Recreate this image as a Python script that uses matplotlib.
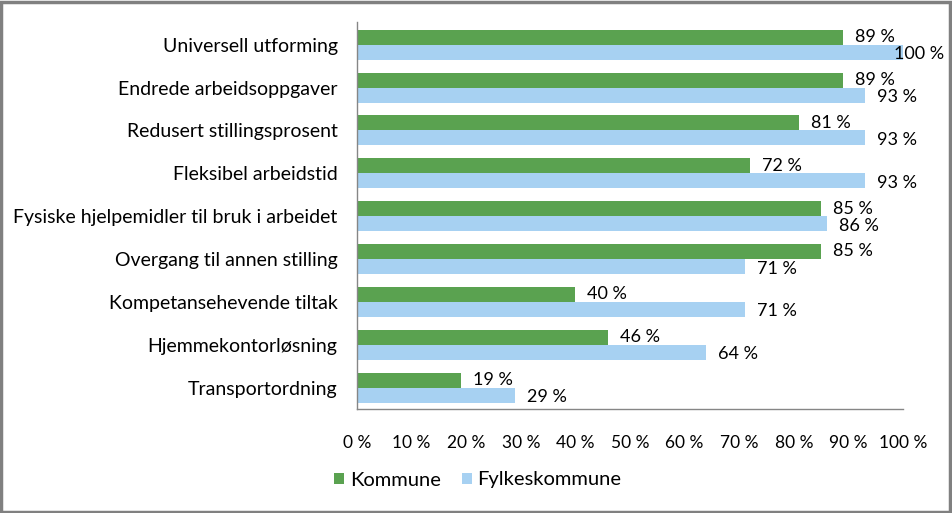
import matplotlib.pyplot as plt
from matplotlib.patches import Rectangle
import numpy as np

# Data
categories = ["Universell utforming", "Endrede arbeidsoppgaver",
              "Redusert stillingsprosent", "Fleksibel arbeidstid",
              "Fysiske hjelpemidler til bruk i arbeidet",
              "Overgang til annen stilling", "Kompetansehevende tiltak",
              "Hjemmekontorløsning", "Transportordning"]
kommune = [89, 89, 81, 72, 85, 85, 40, 46, 19]
fylkeskommune = [100, 93, 93, 93, 86, 71, 71, 64, 29]
xticks = [0, 10, 20, 30, 40, 50, 60, 70, 80, 90, 100]

GREEN = "#5aa250"
BLUE = "#a7d1f2"
FONT = "Lato"

plt.rcParams['font.family'] = [FONT, 'DejaVu Sans']

fig = plt.figure(figsize=(9.52, 5.13), dpi=100)
ax = fig.add_axes([357 / 952, 1 - 409 / 513, (903 - 357) / 952, (409 - 22) / 513])

y = np.arange(len(categories))
h = 0.35
ax.barh(y - h / 2, kommune, height=h, color=GREEN, label="Kommune")
ax.barh(y + h / 2, fylkeskommune, height=h, color=BLUE, label="Fylkeskommune")

# Data labels (pushed left when they would run past the frame)
for i in range(len(categories)):
    ax.text(min(kommune[i] + 2.2, 98.3), y[i] - h / 2, "%d %%" % kommune[i],
            va='center', ha='left', fontsize=13)
    ax.text(min(fylkeskommune[i] + 2.2, 98.3), y[i] + h / 2 + 0.05,
            "%d %%" % fylkeskommune[i], va='center', ha='left', fontsize=13)

ax.set_xlim(0, 100)
ax.set_ylim(len(categories) - 0.5, -0.53)
ax.set_yticks(y)
ax.set_yticklabels(categories, fontsize=14)
ax.set_xticks(xticks)
ax.set_xticklabels(["%d %%" % t for t in xticks], fontsize=12.5)
ax.tick_params(axis='both', length=0)
ax.tick_params(axis='x', pad=19)
ax.tick_params(axis='y', pad=14)

for s in ['top', 'right']:
    ax.spines[s].set_visible(False)
for s in ['left', 'bottom']:
    ax.spines[s].set_color("#868686")
    ax.spines[s].set_linewidth(1)

ax.legend(loc='center', bbox_to_anchor=(478 / 952, 1 - 480 / 513),
          bbox_transform=fig.transFigure, ncol=2, frameon=False,
          fontsize=14.5, handlelength=0.5, handleheight=0.5,
          handletextpad=0.3, columnspacing=1.0)

# Outer border
fig.patches.append(Rectangle((0.001, 0.002), 0.997, 0.995, transform=fig.transFigure,
                             fill=False, edgecolor="#808080", linewidth=2.5))

plt.savefig("out.png", dpi=100)
plt.close()
